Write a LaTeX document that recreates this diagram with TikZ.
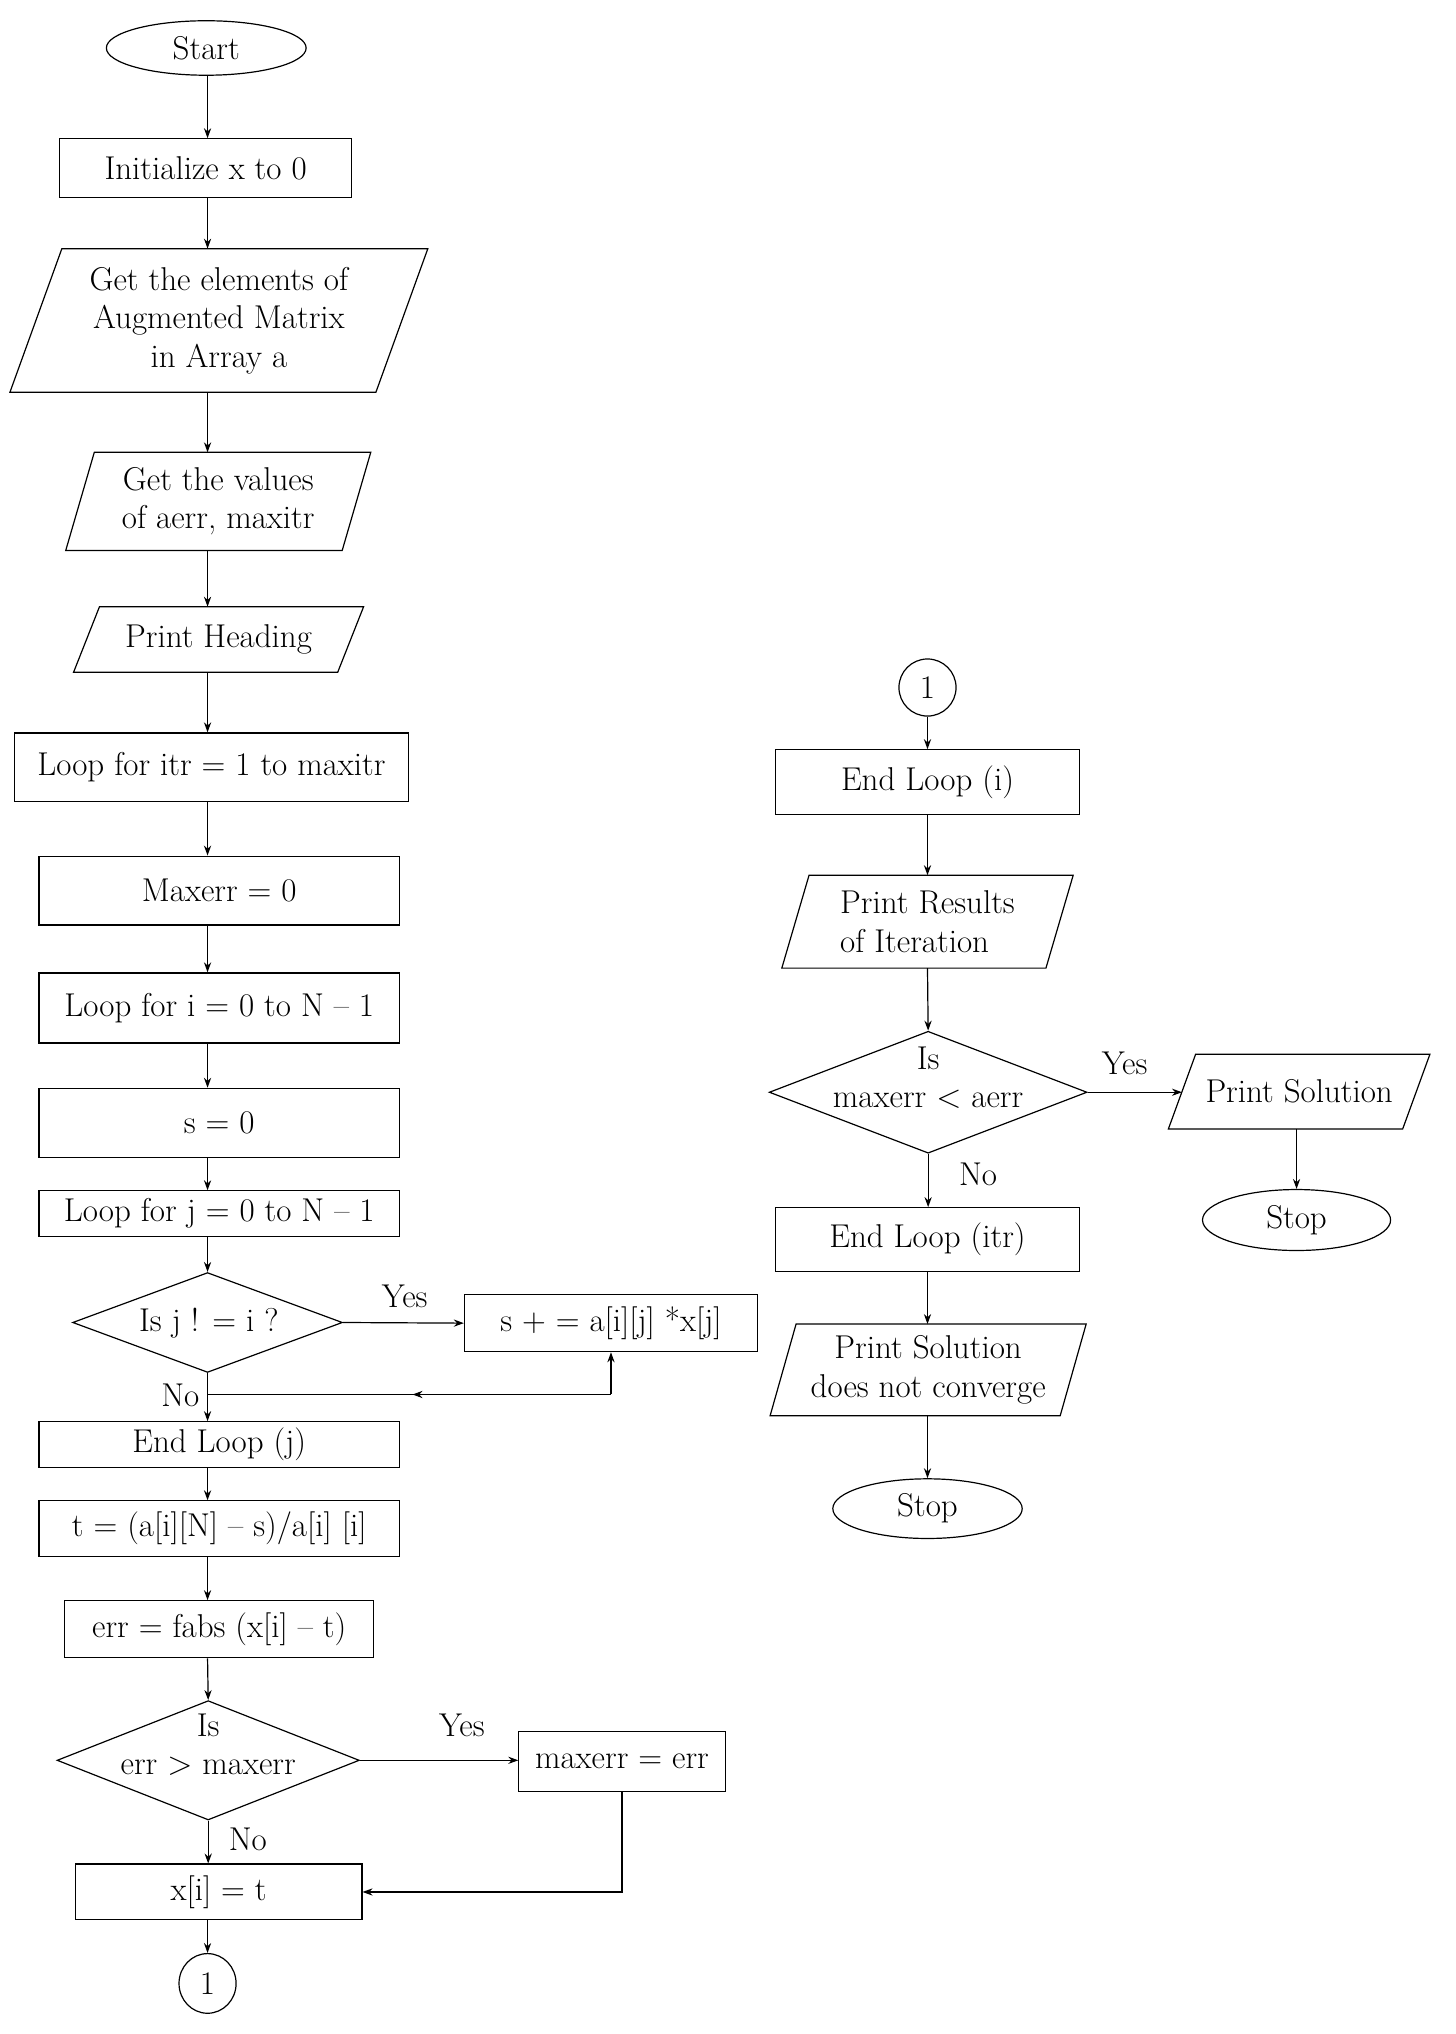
\documentclass[tikz,border=0pt]{standalone}
\usetikzlibrary{shapes.geometric,arrows.meta}
\newcommand{\myu}{0.6488pt}
\newcommand{\para}[2]{\draw[ln] ([xshift=#2*\myu]#1.north west) -- ([xshift=#2*\myu]#1.north east) -- ([xshift=-#2*\myu]#1.south east) -- ([xshift=-#2*\myu]#1.south west) -- cycle;}
\begin{document}
\begin{tikzpicture}[x=0.6488pt,y=-0.6488pt,
  every node/.style={font=\fontsize{16.5}{19.2}\selectfont},
  ln/.style={line width=0.6pt},
  arr/.style={ln,-{Stealth[length=5pt,width=3.6pt]}},
  box/.style 2 args={draw,ln,rectangle,inner sep=0pt,minimum width=#1*\myu,minimum height=#2*\myu},
  term/.style 2 args={draw,ln,ellipse,inner sep=0pt,minimum width=#1*\myu,minimum height=#2*\myu},
  dia/.style 2 args={draw,ln,diamond,inner sep=0pt,minimum width=#1*\myu,minimum height=#2*\myu},
  io/.style 2 args={rectangle,inner sep=0pt,minimum width=#1*\myu,minimum height=#2*\myu,align=center}
]
\useasboundingbox (0,0) rectangle (1122,1568);
\coordinate (ax) at (160,0);
\coordinate (bx) at (715,0);

% left column
\node[term={154}{42}] (start) at (159,37) {Start};
\node[box={225}{45}] (init) at (158.5,129.5) {Initialize x to 0};
\node[io={281.5}{110}] (p1) at (168.75,247) {Get the elements of\\Augmented Matrix\\in Array a};
\para{p1}{20}
\node[io={212.5}{75}] (p2) at (168.25,386.5) {Get the values\\of aerr, maxitr};
\para{p2}{11}
\node[io={203}{50}] (p3) at (168.5,493) {Print Heading};
\para{p3}{10}
\node[box={304}{53}] (litr) at (163,591.5) {Loop for itr = 1 to maxitr};
\node[box={278}{53}] (mz) at (169,686.5) {Maxerr = 0};
\node[box={278}{54}] (li) at (169,777) {Loop for i = 0 to N -- 1};
\node[box={278}{53}] (s0) at (169,865.5) {s = 0};
\node[box={278}{35}] (lj) at (169,935.5) {Loop for j = 0 to N -- 1};
\node[dia={208}{77}] (d1) at (160,1019.5) {};
\node (d1t) at (161,1020) {Is j ! = i ?};
\node[box={226}{44}] (sb) at (471,1020) {s + = a[i][j] *x[j]};
\node (y1) at (312,999) {Yes};
\node (n1) at (139,1076) {No};
\coordinate (rc) at (471,1075);
\coordinate (rm) at (318,1075);
\node[box={278}{35}] (ej) at (169,1113.5) {End Loop (j)};
\node[box={278}{43}] (tb) at (169,1178.5) {t = (a[i][N] -- s)/a[i] [i]};
\node[box={238}{44}] (eb) at (169,1256) {err = fabs (x[i] -- t)};
\node[dia={233}{92}] (d2) at (160.5,1357) {};
\node[align=center] (d2t) at (160.5,1345) {Is\\err > maxerr};
\node[box={159}{46}] (mx) at (479.5,1358) {maxerr = err};
\node (y2) at (356,1330) {Yes};
\node (n2) at (191,1418) {No};
\node[box={221}{43}] (xi) at (168.5,1458.5) {x[i] = t};
\node[term={44}{46}] (c1) at (160,1529) {1};

% right column
\node[term={44}{44}] (c2) at (715,530) {1};
\node[box={234}{50}] (ei) at (715,603) {End Loop (i)};
\node[io={203}{71},align=left] (pr) at (715,710.5) {Print Results\\of Iteration};
\para{pr}{10.5}
\node[dia={245}{94}] (d3) at (715.5,842) {};
\node[align=center] (d3t) at (715.5,831) {Is\\maxerr < aerr};
\node[io={180}{57}] (ps) at (1001.5,841.5) {Print Solution};
\para{ps}{10.5}
\node (y3) at (867,820) {Yes};
\node[term={145}{47}] (st1) at (999.5,940.5) {Stop};
\node (n3) at (754,905) {No};
\node[box={234}{49}] (eitr) at (715,955.5) {End Loop (itr)};
\node[io={223}{70}] (pnc) at (715.5,1056) {Print Solution\\does not converge};
\para{pnc}{10}
\node[term={146}{46}] (st2) at (715,1163) {Stop};

% left connectors
\draw[arr] (start.south -| ax) -- (init.north -| ax);
\draw[arr] (init.south -| ax) -- (p1.north -| ax);
\draw[arr] (p1.south -| ax) -- (p2.north -| ax);
\draw[arr] (p2.south -| ax) -- (p3.north -| ax);
\draw[arr] (p3.south -| ax) -- (litr.north -| ax);
\draw[arr] (litr.south -| ax) -- (mz.north -| ax);
\draw[arr] (mz.south -| ax) -- (li.north -| ax);
\draw[arr] (li.south -| ax) -- (s0.north -| ax);
\draw[arr] (s0.south -| ax) -- (lj.north -| ax);
\draw[arr] (lj.south -| ax) -- (d1.north);
\draw[arr] (d1.east) -- (sb.west);
\draw[arr] (d1.south) -- (d1.south |- ej.north);
\draw[arr] (rc) -- (sb.south);
\draw[arr] (rc) -- (rm);
\draw[ln] (rm) -- (d1.south |- rm);
\draw[arr] (ej.south -| ax) -- (tb.north -| ax);
\draw[arr] (tb.south -| ax) -- (eb.north -| ax);
\draw[arr] (eb.south -| ax) -- (d2.north);
\draw[arr] (d2.east) -- (d2.east -| mx.west);
\draw[arr] (d2.south) -- (d2.south |- xi.north);
\draw[arr] (mx.south) |- (xi.east);
\draw[arr] (xi.south -| ax) -- (c1.north);

% right connectors
\draw[arr] (c2.south) -- (ei.north);
\draw[arr] (ei.south -| bx) -- (pr.north -| bx);
\draw[arr] (pr.south -| bx) -- (d3.north);
\draw[arr] (d3.east) -- (d3.east -| ps.west);
\draw[arr] (ps.south -| st1) -- (st1.north);
\draw[arr] (d3.south) -- (d3.south |- eitr.north);
\draw[arr] (eitr.south -| bx) -- (pnc.north -| bx);
\draw[arr] (pnc.south -| bx) -- (st2.north);
\end{tikzpicture}
\end{document}
